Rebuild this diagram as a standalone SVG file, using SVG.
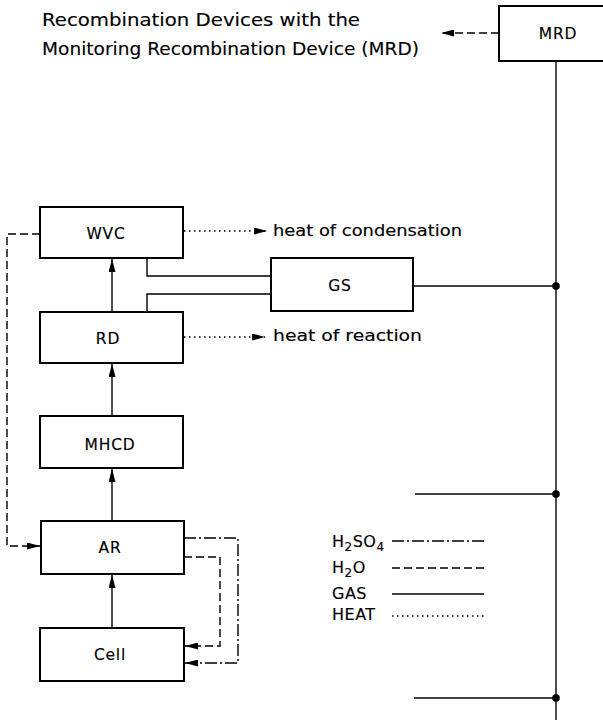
<svg xmlns="http://www.w3.org/2000/svg" width="603" height="720" viewBox="0 0 603 720">
<style>
  .box { fill: #fff; stroke: #000; stroke-width: 2; }
  .lbl { font-family: "DejaVu Sans", "Liberation Sans", sans-serif; font-size: 15.5px; letter-spacing: 0.8px; fill: #000; stroke: #000; stroke-width: 0.15; text-anchor: middle; }
  .txt { font-family: "DejaVu Sans", "Liberation Sans", sans-serif; fill: #000; stroke: #000; stroke-width: 0.15; }
  .gas { fill: none; stroke: #000; stroke-width: 1.4; }
  .h2o { fill: none; stroke: #000; stroke-width: 1.4; stroke-dasharray: 8 4; }
  .acid { fill: none; stroke: #000; stroke-width: 1.4; stroke-dasharray: 12 3 2 3; }
  .heat { fill: none; stroke: #000; stroke-width: 1.4; stroke-dasharray: 1.5 3.5; }
  .dot { fill: #000; }
</style>
<defs>
  <marker id="ah" viewBox="0 0 13 7" refX="13" refY="3.5" markerWidth="13" markerHeight="7" markerUnits="userSpaceOnUse" orient="auto">
    <path d="M0,0 L13,3.5 L0,7 Z" fill="#000"/>
  </marker>
</defs>
<rect width="603" height="720" fill="#fff"/>

<g id="title">
  <text class="txt" x="42" y="26" font-size="18" textLength="318" lengthAdjust="spacingAndGlyphs">Recombination Devices with the</text>
  <text class="txt" x="42" y="55" font-size="18" textLength="377" lengthAdjust="spacingAndGlyphs">Monitoring Recombination Device (MRD)</text>
</g>

<g id="connectors">
  <!-- bus -->
  <line class="gas" x1="556" y1="61" x2="556" y2="720"/>
  <line class="gas" x1="413" y1="286" x2="556" y2="286"/>
  <line class="gas" x1="415" y1="494" x2="556" y2="494"/>
  <line class="gas" x1="414" y1="698" x2="556" y2="698"/>
  <circle class="dot" cx="556" cy="286" r="3.8"/>
  <circle class="dot" cx="556" cy="494" r="3.8"/>
  <circle class="dot" cx="556" cy="698" r="3.8"/>
  <!-- MRD arrow -->
  <line class="h2o" x1="499" y1="33" x2="441" y2="33" marker-end="url(#ah)"/>
  <!-- vertical flow -->
  <line class="gas" x1="112" y1="628" x2="112" y2="575" marker-end="url(#ah)"/>
  <line class="gas" x1="112" y1="521" x2="112" y2="469" marker-end="url(#ah)"/>
  <line class="gas" x1="112" y1="416" x2="112" y2="364" marker-end="url(#ah)"/>
  <line class="gas" x1="112" y1="312" x2="112" y2="259" marker-end="url(#ah)"/>
  <!-- gas to GS -->
  <polyline class="gas" points="147,258 147,276 271,276"/>
  <polyline class="gas" points="147,312 147,294 271,294"/>
  <!-- heat -->
  <line class="heat" x1="184" y1="231" x2="267" y2="231" marker-end="url(#ah)"/>
  <line class="heat" x1="184" y1="337" x2="265" y2="337" marker-end="url(#ah)"/>
  <!-- H2O loop WVC -> AR -->
  <polyline class="h2o" points="40,234 7,234 7,546 40,546" marker-end="url(#ah)"/>
  <!-- AR -> Cell loops -->
  <polyline class="acid" points="184,538 238,538 238,663 185,663" marker-end="url(#ah)"/>
  <polyline class="h2o" points="184,557 220,557 220,646 185,646" marker-end="url(#ah)"/>
</g>

<g id="MRD">
  <rect class="box" x="499" y="6" width="118" height="55"/>
  <text class="lbl" x="558" y="39">MRD</text>
</g>
<g id="WVC">
  <rect class="box" x="40" y="207" width="143" height="51"/>
  <text class="lbl" x="106" y="239">WVC</text>
</g>
<g id="GS">
  <rect class="box" x="271" y="258" width="142" height="53"/>
  <text class="lbl" x="340" y="291">GS</text>
</g>
<g id="RD">
  <rect class="box" x="40" y="312" width="143" height="51"/>
  <text class="lbl" x="108" y="344">RD</text>
</g>
<g id="MHCD">
  <rect class="box" x="40" y="416" width="143" height="52"/>
  <text class="lbl" x="110" y="450">MHCD</text>
</g>
<g id="AR">
  <rect class="box" x="41" y="521" width="143" height="53"/>
  <text class="lbl" x="110" y="553">AR</text>
</g>
<g id="Cell">
  <rect class="box" x="40" y="628" width="144" height="53"/>
  <text class="lbl" x="110" y="660">Cell</text>
</g>

<g id="heat-labels">
  <text class="txt" x="273" y="236" font-size="16" textLength="189" lengthAdjust="spacingAndGlyphs">heat of condensation</text>
  <text class="txt" x="273" y="341" font-size="16" textLength="149" lengthAdjust="spacingAndGlyphs">heat of reaction</text>
</g>

<g id="legend">
  <text class="txt" x="332" y="547" font-size="16" letter-spacing="0.5">H<tspan font-size="12" dy="4">2</tspan><tspan dy="-4">SO</tspan><tspan font-size="12" dy="4">4</tspan></text>
  <text class="txt" x="332" y="573" font-size="16" letter-spacing="0.5">H<tspan font-size="12" dy="4">2</tspan><tspan dy="-4">O</tspan></text>
  <text class="txt" x="332" y="599" font-size="16" letter-spacing="0.5">GAS</text>
  <text class="txt" x="332" y="620" font-size="16" letter-spacing="0.5">HEAT</text>
  <line class="acid" x1="392" y1="541" x2="484" y2="541" stroke-width="2"/>
  <line class="h2o" x1="392" y1="568" x2="484" y2="568" stroke-width="2"/>
  <line class="gas" x1="392" y1="594" x2="484" y2="594" stroke-width="2"/>
  <line class="heat" x1="392" y1="616" x2="484" y2="616"/>
</g>
</svg>
